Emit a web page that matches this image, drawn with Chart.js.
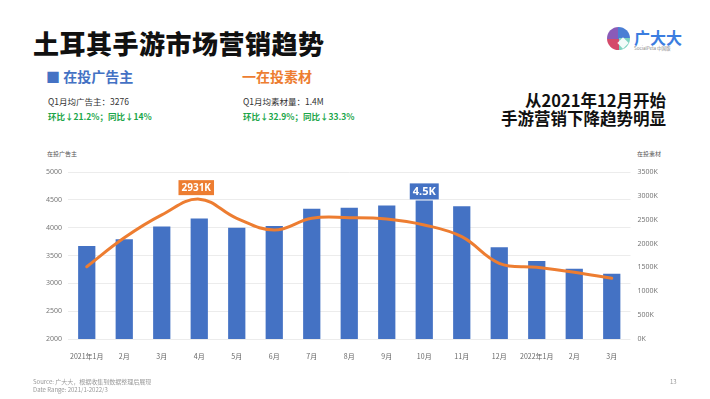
<!DOCTYPE html>
<html>
<head>
<meta charset="utf-8">
<script src="https://cdn.jsdelivr.net/npm/chart.js@4/dist/chart.umd.min.js"></script>
<style>
html,body{margin:0;padding:0;background:#fff;width:710px;height:399px;overflow:hidden;font-family:"Noto Sans CJK SC","Noto Sans",sans-serif;}
.abs{position:absolute;white-space:nowrap;}
#title{left:33px;top:24px;font-size:26px;font-weight:900;color:#111;letter-spacing:0.5px;}
.leg{font-size:14px;font-weight:700;top:66px;}
.small{font-size:8.5px;color:#333;}
.green{font-size:8.5px;color:#1aa64a;font-weight:700;}
.right{font-size:16.5px;font-weight:700;color:#111;text-align:right;right:44px;}
.axt{font-size:6px;color:#555;top:149px;}
.foot{font-size:6px;color:#999;left:33px;}
#wrap{position:absolute;left:0;top:140px;width:710px;height:240px;}
</style>
</head>
<body>
<div class="abs" id="title">土耳其手游市场营销趋势</div>

<div class="abs" style="left:607px;top:27px;width:23px;height:23px;border-radius:50%;background:conic-gradient(#4a7fd4 0 25%, #7ed3c0 25% 50%, #d44a6a 50% 75%, #8a5bb8 75% 100%);"></div>
<div class="abs" style="left:619px;top:39px;width:8px;height:8px;background:#fff;transform:rotate(45deg);opacity:0.9"></div>
<div class="abs" style="left:634px;top:25px;font-size:16px;font-weight:700;color:#3b7de0;">广大大</div>
<div class="abs" style="left:634px;top:45px;font-size:4.5px;color:#888;">SocialPeta 中国版</div>

<div class="abs leg" style="left:46px;color:#4472C4;">■ 在投广告主</div>
<div class="abs leg" style="left:242px;color:#ED7D31;">一在投素材</div>

<div class="abs small" style="left:48px;top:95px;">Q1月均广告主：3276</div>
<div class="abs green" style="left:48px;top:110px;">环比↓21.2%；同比↓14%</div>
<div class="abs small" style="left:243px;top:95px;">Q1月均素材量：1.4M</div>
<div class="abs green" style="left:243px;top:110px;">环比↓32.9%；同比↓33.3%</div>

<div class="abs right" style="top:88px;">从2021年12月开始</div>
<div class="abs right" style="top:106px;">手游营销下降趋势明显</div>

<div class="abs axt" style="left:47px;">在投广告主</div>
<div class="abs axt" style="left:637px;">在投素材</div>

<div id="wrap"><canvas id="c" width="710" height="240"></canvas></div>

<div class="abs foot" style="top:377px;">Source: 广大大，根据收集到数据整理后展现</div>
<div class="abs foot" style="top:385px;">Date Range: 2021/1-2022/3</div>
<div class="abs foot" style="left:670px;top:377px;">13</div>

<script>
const categories = ["2021年1月","2月","3月","4月","5月","6月","7月","8月","9月","10月","11月","12月","2022年1月","2月","3月"];
const advertisers = [3670, 3790, 4020, 4165, 4000, 4030, 4340, 4360, 4400, 4490, 4385, 3650, 3400, 3260, 3170];
const creativesK = [1515, 2120, 2600, 2931, 2530, 2284, 2530, 2543, 2515, 2390, 2144, 1586, 1502, 1397, 1272];
const leftTicks = [2000, 2500, 3000, 3500, 4000, 4500, 5000];
const rightTicks = [0, 500, 1000, 1500, 2000, 2500, 3000, 3500];

const BLUE = "#4472C4", ORANGE = "#ED7D31";

const calloutPlugin = {
  id: "callouts",
  afterDatasetsDraw(chart) {
    const ctx = chart.ctx;
    function box(x, yBottom, text, color, fs) {
      ctx.save();
      ctx.font = "700 " + fs + "px 'Noto Sans','Noto Sans CJK SC',sans-serif";
      const w = ctx.measureText(text).width + 6;
      const h = fs + 5;
      ctx.fillStyle = color;
      ctx.fillRect(x - w / 2, yBottom - h, w, h);
      ctx.fillStyle = "#fff";
      ctx.textAlign = "center";
      ctx.textBaseline = "middle";
      ctx.fillText(text, x, yBottom - h / 2 + 0.5);
      ctx.restore();
    }
    const li = creativesK.indexOf(Math.max(...creativesK));
    const lp = chart.getDatasetMeta(1).data[li];
    box(lp.x - 3, lp.y - 4, creativesK[li] + "K", ORANGE, 10);
    const bi = advertisers.indexOf(Math.max(...advertisers));
    const bp = chart.getDatasetMeta(0).data[bi];
    box(bp.x, bp.y - 1, (advertisers[bi] / 1000).toFixed(1) + "K", BLUE, 11);
  }
};

new Chart(document.getElementById("c"), {
  type: "bar",
  data: {
    labels: categories,
    datasets: [
      { type: "bar", data: advertisers, backgroundColor: BLUE, yAxisID: "y", barPercentage: 0.46, categoryPercentage: 1, order: 2 },
      { type: "line", data: creativesK, borderColor: ORANGE, borderWidth: 3, pointRadius: 0, tension: 0.4, yAxisID: "y1", order: 1, borderCapStyle: "round" }
    ]
  },
  options: {
    responsive: false,
    animation: false,
    events: [],
    layout: { padding: { top: 32, left: 0, right: 0, bottom: 0 } },
    plugins: { legend: { display: false }, tooltip: { enabled: false } },
    scales: {
      x: {
        grid: { display: false },
        border: { display: false },
        ticks: { color: "#666", font: { size: 7, family: "'Noto Sans CJK SC'" }, padding: 5, maxRotation: 0, autoSkip: false },
        afterFit(s) { s.height = 41; }
      },
      y: {
        position: "left",
        min: 2000, max: 5000,
        afterBuildTicks(s) { s.ticks = leftTicks.map(v => ({ value: v })); },
        grid: { color: "#ececec", drawTicks: false, lineWidth: 1 },
        border: { display: false },
        ticks: { color: "#777", font: { size: 7, family: "'Noto Sans'" }, padding: 6, callback: v => String(v) },
        afterFit(s) { s.width = 68; }
      },
      y1: {
        position: "right",
        min: 0, max: 3500,
        afterBuildTicks(s) { s.ticks = rightTicks.map(v => ({ value: v })); },
        grid: { display: false, drawTicks: false },
        border: { display: false },
        ticks: { color: "#777", font: { size: 7, family: "'Noto Sans'" }, padding: 7, callback: v => v + "K" },
        afterFit(s) { s.width = 79.5; }
      }
    }
  },
  plugins: [calloutPlugin]
});
</script>
</body>
</html>
